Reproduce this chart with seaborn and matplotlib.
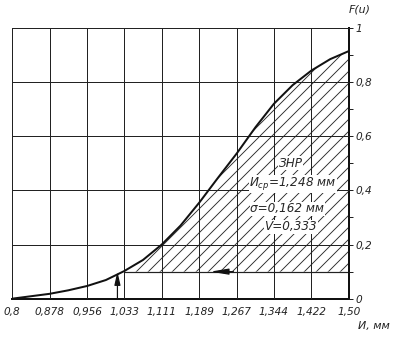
import numpy as np
import matplotlib
matplotlib.use("Agg")
import matplotlib.pyplot as plt
from matplotlib.ticker import FixedLocator, MultipleLocator
import pandas as pd
import seaborn as sns

# --- data ---
x_ticks = [0.8, 0.878, 0.956, 1.033, 1.111, 1.189, 1.267, 1.344, 1.422, 1.50]
x_tick_labels = ["0,8", "0,878", "0,956", "1,033", "1,111", "1,189",
                 "1,267", "1,344", "1,422", "1,50"]
y_ticks = [0, 0.2, 0.4, 0.6, 0.8, 1.0]
y_tick_labels = ["0", "0,2", "0,4", "0,6", "0,8", "1"]

wear = [0.8, 0.839, 0.878, 0.917, 0.956, 0.995, 1.033, 1.072, 1.111, 1.150,
        1.189, 1.228, 1.267, 1.306, 1.344, 1.383, 1.422, 1.461, 1.50]
F_u = [0.0, 0.009, 0.018, 0.031, 0.047, 0.069, 0.102, 0.143, 0.20, 0.27,
       0.355, 0.447, 0.537, 0.634, 0.72, 0.789, 0.843, 0.885, 0.915]

F_level = 0.1          # lower bound of hatched zone
wear_level = 1.033     # wear at F = 0.1
arrow_up_x = 1.019
arrow_left = (1.212, 1.26)

df = pd.DataFrame({"wear": wear, "F": F_u})

sns.set_theme(style="white")
plt.rcParams["font.family"] = ["DejaVu Sans"]
plt.rcParams["font.style"] = "italic"
plt.rcParams["hatch.linewidth"] = 0.9

fig = plt.figure(figsize=(395 / 72, 338 / 72), dpi=72)
ax = fig.add_axes([12 / 395, 1 - 298.7 / 338, 337 / 395, 270.7 / 338])

# hatched zone between F = 0.1 and the curve
zone = df[df["wear"] >= wear_level]
ax.fill_between(zone["wear"], F_level, zone["F"], facecolor="none",
                edgecolor="#2a2a2a", hatch="//", linewidth=0, zorder=1)
ax.plot([wear_level, 1.50], [F_level, F_level], color="#222222", lw=1.2, zorder=2)

sns.lineplot(data=df, x="wear", y="F", color="#111111", lw=2.0, ax=ax, zorder=4)

ax.set_xlim(0.8, 1.50)
ax.set_ylim(0, 1)
ax.xaxis.set_major_locator(FixedLocator(x_ticks))
ax.set_xticklabels(x_tick_labels)
ax.yaxis.set_major_locator(FixedLocator(y_ticks))
ax.set_yticklabels(y_tick_labels)
ax.yaxis.set_minor_locator(MultipleLocator(0.1))
ax.yaxis.tick_right()
ax.grid(True, which="major", color="#222222", lw=1.0, zorder=3)
ax.set_axisbelow(False)
ax.tick_params(axis="x", length=0, labelsize=10.5, pad=8, colors="#222222")
ax.tick_params(axis="y", which="both", direction="out", length=4, width=1,
               labelsize=10.5, pad=2, colors="#222222")
ax.set_xlabel("")
ax.set_ylabel("")

for side in ["top", "left"]:
    ax.spines[side].set_color("#222222")
    ax.spines[side].set_linewidth(1.0)
ax.spines["bottom"].set_color("#111111")
ax.spines["bottom"].set_linewidth(2.0)
ax.spines["right"].set_color("#111111")
ax.spines["right"].set_linewidth(2.0)

# arrows
ax.annotate("", xy=(arrow_up_x, 0.1), xytext=(arrow_up_x, 0.0),
            arrowprops=dict(arrowstyle="-|>,head_length=1.1,head_width=0.25",
                            color="#111111", lw=1.2,
                            mutation_scale=10, shrinkA=0, shrinkB=0), zorder=5)
ax.annotate("", xy=(arrow_left[0], F_level), xytext=(arrow_left[1], F_level),
            arrowprops=dict(arrowstyle="-|>,head_length=1.5,head_width=0.25",
                            color="#111111", lw=1.2,
                            mutation_scale=10, shrinkA=0, shrinkB=0), zorder=5)

# annotations
box = dict(facecolor="white", edgecolor="none", pad=0.5)
ax.text(1.379, 0.50, "ЗНР", ha="center", va="center", fontsize=12, bbox=box, zorder=6)
ax.text(1.383, 0.425, "$\\mathit{И}_{\\mathit{ср}}$=1,248 мм", ha="center", va="center",
        fontsize=12, bbox=box, zorder=6)
ax.text(1.372, 0.333, "σ=0,162 мм", ha="center", va="center", fontsize=12,
        bbox=box, zorder=6)
ax.text(1.379, 0.265, "V=0,333", ha="center", va="center", fontsize=12,
        bbox=box, zorder=6)

fig.text(349 / 395, 1 - 10 / 338, "F(u)", ha="left", va="center", fontsize=11,
         color="#222222")
fig.text(358 / 395, 1 - 326 / 338, "И, мм", ha="left", va="center", fontsize=11,
         color="#222222")

fig.savefig("out.png", dpi=72, facecolor="white")
